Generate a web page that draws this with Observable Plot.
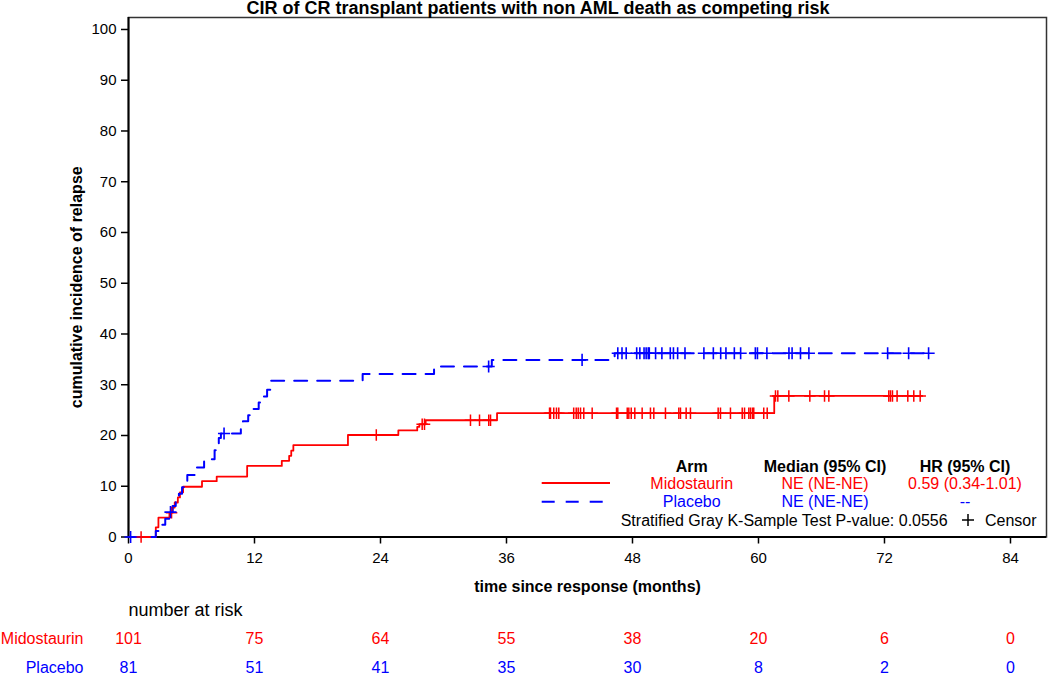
<!DOCTYPE html>
<html><head><meta charset="utf-8">
<script src="https://cdn.jsdelivr.net/npm/d3@7"></script>
<script src="https://cdn.jsdelivr.net/npm/@observablehq/plot@0.6"></script>
<style>html,body{margin:0;padding:0;background:#fff;overflow:hidden}</style>
</head><body><div id="chart"></div>
<script>
// ---- data (months, cumulative incidence %) ----
const midoStepTime = [0, 2.6, 2.85, 3.9, 4.2, 4.4, 4.7, 4.9, 5.2, 7.0, 8.4, 11.3, 14.6, 15.3, 15.5, 15.7, 20.9, 25.7, 27.5, 27.7, 28.3, 35.1, 61.5];
const midoStepCIR  = [0, 1.9, 3.8, 4.8, 5.8, 6.8, 7.8, 8.8, 9.9, 11.0, 11.9, 14.0, 15.0, 16.0, 17.0, 18.1, 20.1, 21.0, 21.7, 22.2, 23.0, 24.4, 27.8];
const midoEnd = 75.6;
const midoCensorTime = [1.2, 4.1, 23.6, 27.97, 28.19, 32.57, 33.43, 34.31, 34.48,
  40.1, 40.19, 40.5, 40.76, 40.98, 42.4, 42.64, 42.83, 43.05, 43.36, 44.16, 46.48, 46.6,
  47.5, 47.65, 47.88, 48.22, 48.92, 49.71, 50.03, 51.14, 52.41, 52.57, 53.11, 53.52,
  56.16, 56.38, 57.33, 58.45, 58.67, 59.08, 59.24, 59.43, 59.55, 60.5, 60.83,
  61.62, 61.84, 62.89, 64.89, 66.29, 66.7, 72.41, 72.57, 72.76, 73.2, 74.22, 74.79, 75.4];

const placeboStepTime = [0, 2.6, 3.0, 3.5, 3.9, 4.2, 4.5, 4.8, 5.1, 5.4, 5.6, 6.3, 7.2, 8.2, 8.4, 8.6, 8.8, 10.7, 10.9, 11.4, 11.7, 12.4, 12.8, 13.2, 13.5, 22.3, 29.1, 34.6, 46.3];
const placeboStepCIR  = [0, 1.2, 2.4, 3.6, 4.9, 6.1, 7.3, 8.5, 9.8, 11.0, 12.2, 13.7, 15.3, 17.1, 18.4, 19.5, 20.4, 21.6, 22.8, 24.0, 25.2, 26.5, 27.7, 29.0, 30.8, 32.1, 33.6, 34.9, 36.2];
const placeboEnd = 76.2;
const placeboCensorTime = [0.2, 4.0, 9.1, 34.3, 43.2,
  46.6, 47.0, 47.4, 48.4, 48.7, 49.1, 49.3, 49.5, 49.6, 50.2, 50.8, 51.6, 51.9, 52.3, 53.0,
  54.8, 55.7, 56.4, 56.9, 57.7, 58.3, 59.7, 59.9, 60.8, 62.9, 63.2, 64.0, 64.8, 72.3, 74.3, 76.2];

const xTicks = [0, 12, 24, 36, 48, 60, 72, 84];
const yTicks = [0, 10, 20, 30, 40, 50, 60, 70, 80, 90, 100];
const riskTimes = [0, 12, 24, 36, 48, 60, 72, 84];
const midoAtRisk = [101, 75, 64, 55, 38, 20, 6, 0];
const placeboAtRisk = [81, 51, 41, 35, 30, 8, 2, 0];

const RED = "#ff0000", BLUE = "#0000ff";
const FONT = "'Liberation Sans', Arial, Helvetica, sans-serif";

// ---- build tables ----
const stepRows = (times, vals, end) => {
  const rows = times.map((t, i) => ({t, v: vals[i]}));
  rows.push({t: end, v: vals[vals.length - 1]});
  return rows;
};
const cirAt = (times, vals, t) => { let v = 0; times.forEach((s, i) => { if (s <= t) v = vals[i]; }); return v; };
const midoRows = stepRows(midoStepTime, midoStepCIR, midoEnd);
const placeboRows = stepRows(placeboStepTime, placeboStepCIR, placeboEnd);
const midoCensor = midoCensorTime.map(t => ({t, v: cirAt(midoStepTime, midoStepCIR, t)}));
const placeboCensor = placeboCensorTime.map(t => ({t, v: cirAt(placeboStepTime, placeboStepCIR, t)}));
const midoRisk = riskTimes.map((t, i) => ({t, n: midoAtRisk[i]}));
const placeboRisk = riskTimes.map((t, i) => ({t, n: placeboAtRisk[i]}));

const svg = Plot.plot({
  width: 1050, height: 679,
  marginLeft: 128, marginRight: 4, marginTop: 17, marginBottom: 142.5,
  style: {fontFamily: FONT, background: "#fff", color: "#000", overflow: "visible"},
  x: {domain: [0, 87.43], label: null},
  y: {domain: [0, 102.36], label: null},
  marks: [
    Plot.frame({stroke: "#333", strokeWidth: 1.5}),
    Plot.axisX({ticks: xTicks, tickSize: 7, tickPadding: 8, fontSize: 15, strokeWidth: 1.5, label: null}),
    Plot.axisY({ticks: yTicks, tickSize: 7, tickPadding: 5, fontSize: 15, strokeWidth: 1.5, label: null}),
    Plot.ruleX([0], {stroke: "#000", strokeWidth: 2}),
    Plot.ruleY([0], {stroke: "#000", strokeWidth: 2}),
    Plot.line(midoRows, {x: "t", y: "v", curve: "step-after", stroke: RED, strokeWidth: 1.8}),
    Plot.line(placeboRows, {x: "t", y: "v", curve: "step-after", stroke: BLUE, strokeWidth: 2, strokeDasharray: "13,10"}),
    Plot.dot(midoCensor, {x: "t", y: "v", symbol: "plus", r: 3.8, stroke: RED, strokeWidth: 1.5}),
    Plot.dot(placeboCensor, {x: "t", y: "v", symbol: "plus", r: 4, stroke: BLUE, strokeWidth: 1.6}),
    // axis labels
    Plot.text(["time since response (months)"], {frameAnchor: "bottom", dy: 55, text: d => d, fontSize: 16, fontWeight: "bold"}),
    Plot.text(["cumulative incidence of relapse"], {frameAnchor: "left", dx: -52, dy: 10, rotate: -90, textAnchor: "middle", text: d => d, fontSize: 16, fontWeight: "bold"}),
    // number at risk
    Plot.text(["number at risk"], {frameAnchor: "bottom-left", dy: 79, textAnchor: "start", text: d => d, fontSize: 18}),
    Plot.text(["Midostaurin"], {frameAnchor: "bottom-left", dx: -45, dy: 106.5, textAnchor: "end", text: d => d, fontSize: 16, fill: RED}),
    Plot.text(["Placebo"], {frameAnchor: "bottom-left", dx: -45, dy: 135.5, textAnchor: "end", text: d => d, fontSize: 16, fill: BLUE}),
    Plot.text(midoRisk, {x: "t", frameAnchor: "bottom", dy: 106.5, text: "n", fontSize: 16, fill: RED}),
    Plot.text(placeboRisk, {x: "t", frameAnchor: "bottom", dy: 135.5, text: "n", fontSize: 16, fill: BLUE})
  ]
});

// ---- title and in-plot legend ----
const g = d3.select(svg).append("g").attr("font-family", FONT);
g.append("text").attr("x", 538).attr("y", 14).attr("text-anchor", "middle")
  .attr("font-size", 18).attr("font-weight", "bold").text("CIR of CR transplant patients with non AML death as competing risk");

const hdr = [["Arm", 691.7], ["Median (95% CI)", 825], ["HR (95% CI)", 965]];
hdr.forEach(([s, x]) => g.append("text").attr("x", x).attr("y", 466).attr("dy", "0.35em")
  .attr("text-anchor", "middle").attr("font-size", 16).attr("font-weight", "bold").text(s));
const rows = [
  {y: 483, color: RED, dash: null, cells: ["Midostaurin", "NE (NE-NE)", "0.59 (0.34-1.01)"]},
  {y: 501.7, color: BLUE, dash: "13,11", cells: ["Placebo", "NE (NE-NE)", "--"]}
];
rows.forEach(r => {
  g.append("line").attr("x1", 541.7).attr("x2", 610).attr("y1", r.y).attr("y2", r.y)
    .attr("stroke", r.color).attr("stroke-width", 2).attr("stroke-dasharray", r.dash);
  r.cells.forEach((s, i) => g.append("text").attr("x", hdr[i][1]).attr("y", r.y).attr("dy", "0.35em")
    .attr("text-anchor", "middle").attr("font-size", 16).attr("fill", r.color).text(s));
});
g.append("text").attr("x", 620.7).attr("y", 520).attr("dy", "0.35em").attr("text-anchor", "start").attr("font-size", 16)
  .text("Stratified Gray K-Sample Test P-value: 0.0556");
g.append("path").attr("d", "M962,520h12M968,514v12").attr("stroke", "#000").attr("stroke-width", 1.5);
g.append("text").attr("x", 985).attr("y", 520).attr("dy", "0.35em").attr("text-anchor", "start").attr("font-size", 16).text("Censor");

document.getElementById("chart").appendChild(svg);
</script>
</body></html>
